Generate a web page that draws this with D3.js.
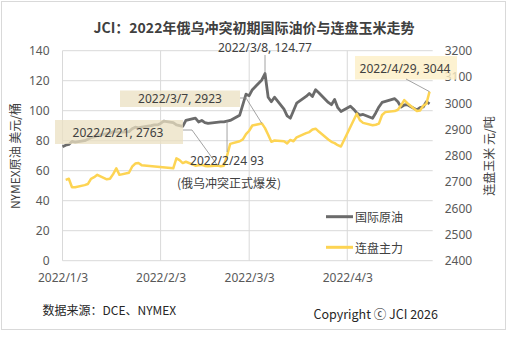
<!DOCTYPE html>
<html><head><meta charset="utf-8">
<script src="https://cdn.jsdelivr.net/npm/d3@7"></script>
<style>
html,body{margin:0;padding:0;background:#fff;}
svg{display:block;font-family:"Noto Sans CJK SC","Noto Sans",sans-serif;}
</style></head>
<body>
<svg id="c" width="508" height="338"></svg>
<script>
const title = "JCI：2022年俄乌冲突初期国际油价与连盘玉米走势";
const seriesNames = ["国际原油", "连盘主力"];
const xTickLabels = ["2022/1/3", "2022/2/3", "2022/3/3", "2022/4/3"];
const leftTicks = [0, 20, 40, 60, 80, 100, 120, 140];
const rightTicks = [2400, 2500, 2600, 2700, 2800, 2900, 3000, 3100, 3200];
const dates = [
 "2022/1/3","2022/1/4","2022/1/5","2022/1/6","2022/1/7",
 "2022/1/10","2022/1/11","2022/1/12","2022/1/13","2022/1/14",
 "2022/1/17","2022/1/18","2022/1/19","2022/1/20","2022/1/21",
 "2022/1/24","2022/1/25","2022/1/26","2022/1/27","2022/1/28",
 "2022/1/31","2022/2/1","2022/2/2","2022/2/3","2022/2/4",
 "2022/2/7","2022/2/8","2022/2/9","2022/2/10","2022/2/11",
 "2022/2/14","2022/2/15","2022/2/16","2022/2/17","2022/2/18",
 "2022/2/21","2022/2/22","2022/2/23","2022/2/24","2022/2/25",
 "2022/2/28","2022/3/1","2022/3/2","2022/3/3","2022/3/4",
 "2022/3/7","2022/3/8","2022/3/9","2022/3/10","2022/3/11",
 "2022/3/14","2022/3/15","2022/3/16","2022/3/17","2022/3/18",
 "2022/3/21","2022/3/22","2022/3/23","2022/3/24","2022/3/25",
 "2022/3/28","2022/3/29","2022/3/30","2022/3/31","2022/4/1",
 "2022/4/4","2022/4/5","2022/4/6","2022/4/7","2022/4/8",
 "2022/4/11","2022/4/12","2022/4/13","2022/4/14","2022/4/15",
 "2022/4/18","2022/4/19","2022/4/20","2022/4/21","2022/4/22",
 "2022/4/25","2022/4/26","2022/4/27","2022/4/28","2022/4/29"];
const oil = [
 76, 77, 77.5, 79.5, 79,
 80, 81, 82, 82.5, 83.5,
 null, 85, 86, 86, 85.5,
 86, 88, 89, 88.5, 89,
 90, 90.5, 90.5, 91.5, 93,
 92, 90.5, 90, 89.5, 93.5,
 95, 92.5, 93.5, 92, 91.5,
 null, 92.5, 92.5, 93, 93.5,
 97, 104, 111, 110, 114,
 120.5, 124.77, 109, 106, 109,
 101, 96.5, 95, 100, 105,
 109.5, 111.5, 109.5, 114, 112,
 105.5, 104, 107.5, 102, 99.5,
 103, 101, 98.5, 97, 97.5,
 95, 98.5, 102.5, 105.5, null,
 108, 106, 102.5, 103.8, 104,
 100.5, 102, 102.5, 106, 104.5];
const corn = [
 null, 2708, 2712, 2680, 2680,
 2688, 2692, 2712, 2718, 2727,
 2710, 2712, 2730, 2752, 2727,
 2735, 2758, 2770, 2772, 2764,
 null, null, null, null, null,
 2752, 2790, 2783, 2772, 2777,
 2762, 2764, 2765, 2761, 2760,
 2763, 2760, 2762, 2800, 2845,
 2855, 2862, 2882, 2895, 2915,
 2923, 2905, 2880, 2853, 2858,
 2855, 2847, 2860, 2855, 2870,
 2886, 2890, 2900, 2903, 2892,
 2862, 2853, 2848, 2840, 2835,
 null, null, 2960, 2935, 2925,
 2916, 2918, 2922, 2955, 2966,
 2970, 2975, 2992, 3012, 3000,
 2970, 2972, 2990, 2998, 3044];
const annotations = [
 {text: "2022/3/8, 124.77", date: "2022/3/8", series: "oil"},
 {text: "2022/3/7, 2923", date: "2022/3/7", series: "corn"},
 {text: "2022/2/21, 2763", date: "2022/2/21", series: "corn"},
 {text: "2022/2/24 93", date: "2022/2/24", series: "oil"},
 {text: "2022/4/29, 3044", date: "2022/4/29", series: "corn"}];
const eventNote = "(俄乌冲突正式爆发)";
const leftTitle = "NYMEX原油 美元/桶";
const rightTitle = "连盘玉米 元/吨";
const source = "数据来源：DCE、NYMEX";
const copyright = "Copyright ⓒ JCI 2026";

const parse = d3.timeParse("%Y/%m/%d");
const fmt = d => `${d.getFullYear()}/${d.getMonth()+1}/${d.getDate()}`;
const svg = d3.select("#c");
const P = {l: 62.5, r: 432.7, t: 50.7, b: 260.7};
const textCol = "#595959";
const oilCol = "#6b6b6b", cornCol = "#fdd453";

svg.append("rect").attr("x",1.5).attr("y",1.5).attr("width",504).attr("height",328)
  .attr("fill","#fff").attr("stroke","#d9d9d9");

const x = d3.scaleTime().domain([parse("2022/1/3"), parse("2022/4/30")]).range([P.l, P.r]);
const yL = d3.scaleLinear().domain([0, 140]).range([P.b, P.t]);
const yR = d3.scaleLinear().domain([2400, 3200]).range([P.b, P.t]);

// gridlines
svg.append("g").selectAll("line").data(leftTicks).join("line")
  .attr("x1",P.l).attr("x2",P.r).attr("y1",d=>yL(d)).attr("y2",d=>yL(d))
  .attr("stroke","#d9d9d9").attr("stroke-width",1);
svg.append("g").selectAll("line").data(xTickLabels.map(parse)).join("line")
  .attr("x1",d=>x(d)).attr("x2",d=>x(d)).attr("y1",P.t).attr("y2",P.b)
  .attr("stroke","#d9d9d9").attr("stroke-width",1);

function styleAxis(g){
  g.select(".domain").remove();
  g.selectAll(".tick line").remove();
  g.selectAll("text").attr("fill",textCol).style("font-size","12px")
   .style("font-family",'"Noto Sans",sans-serif');
}
svg.append("g").attr("transform",`translate(${P.l},0)`)
  .call(d3.axisLeft(yL).tickValues(leftTicks).tickFormat(d3.format("d")).tickSize(0).tickPadding(13)).call(styleAxis);
svg.append("g").attr("transform",`translate(${P.r},0)`)
  .call(d3.axisRight(yR).tickValues(rightTicks).tickFormat(d3.format("d")).tickSize(0).tickPadding(12)).call(styleAxis);
svg.append("g").attr("transform",`translate(0,${P.b})`)
  .call(d3.axisBottom(x).tickValues(xTickLabels.map(parse)).tickFormat(fmt).tickSize(0).tickPadding(13)).call(styleAxis);

// series
const oilPts = dates.map((d,i)=>({d:parse(d), v:oil[i]})).filter(p=>p.v!=null);
const cornPts = dates.map((d,i)=>({d:parse(d), v:corn[i]})).filter(p=>p.v!=null);
svg.append("path").datum(oilPts).attr("fill","none").attr("stroke",oilCol).attr("stroke-width",2.8)
  .attr("stroke-linejoin","round").attr("d", d3.line().x(p=>x(p.d)).y(p=>yL(p.v)));
svg.append("path").datum(cornPts).attr("fill","none").attr("stroke",cornCol).attr("stroke-width",2.5)
  .attr("stroke-linejoin","round").attr("d", d3.line().x(p=>x(p.d)).y(p=>yR(p.v)));

// annotations
function pt(a){
  const i = dates.indexOf(a.date);
  return a.series==="oil" ? [x(parse(a.date)), yL(oil[i])] : [x(parse(a.date)), yR(corn[i])];
}
const ann = svg.append("g");
const fontA = '"Noto Sans","Noto Sans CJK SC",sans-serif';
function label(t, cx, cy, size){
  return ann.append("text").attr("x",cx).attr("y",cy).attr("text-anchor","middle")
    .attr("dominant-baseline","central").attr("fill","#404040")
    .style("font-size",(size||12)+"px").style("font-family",fontA).text(t);
}
const lead = (pts)=>ann.append("path").attr("d",d3.line()(pts)).attr("fill","none")
  .attr("stroke","#8c8c8c").attr("stroke-width",0.8);

// 3/8 peak
{ const p = pt(annotations[0]); lead([[p[0],55],[p[0],p[1]]]); label(annotations[0].text, p[0], 47.5); }
// 3/7 corn
{ const p = pt(annotations[1]);
  ann.append("rect").attr("x",120).attr("y",90.5).attr("width",120).attr("height",16.5).attr("fill","#ebe0c2").attr("opacity",0.75);
  lead([[240,98],[246,98],[p[0],p[1]]]); label(annotations[1].text, 180, 98.5); }
// 2/21 corn
{ const p = pt(annotations[2]);
  ann.append("rect").attr("x",55).attr("y",120).attr("width",128).attr("height",24).attr("fill","#ebe0c2").attr("opacity",0.75);
  lead([[183,130],[192,130],[p[0],p[1]]]); label(annotations[2].text, 118, 132); }
// 2/24 oil
{ const p = pt(annotations[3]);
  lead([[p[0],p[1]],[p[0],152]]); label(annotations[3].text, p[0], 160.5);
  ann.append("text").attr("x",p[0]+2).attr("y",182).attr("text-anchor","middle")
    .attr("dominant-baseline","central").attr("fill","#404040").style("font-size","12px").text(eventNote); }
// 4/29 corn
{ const p = pt(annotations[4]);
  ann.append("rect").attr("x",355).attr("y",56).attr("width",102).attr("height",23.5).attr("fill","#fdefc6").attr("opacity",0.8);
  lead([[406,79],[p[0],p[1]]]); label(annotations[4].text, 405, 68); }

// legend
const lg = svg.append("g");
[[oilCol,216.7],[cornCol,247.3]].forEach((c,i)=>{
  lg.append("line").attr("x1",326).attr("x2",353).attr("y1",c[1]).attr("y2",c[1]).attr("stroke",c[0]).attr("stroke-width",3);
  lg.append("text").attr("x",355).attr("y",c[1]).attr("dominant-baseline","central").attr("fill","#404040")
    .style("font-size","12px").text(seriesNames[i]);
});

// titles
svg.append("text").attr("x",254).attr("y",26.5).attr("text-anchor","middle").attr("dominant-baseline","central")
  .attr("fill","#404040").style("font-size","14px").style("font-weight","bold").text(title);
svg.append("text").attr("transform",`translate(14,156) rotate(-90)`).attr("text-anchor","middle")
  .attr("dominant-baseline","central").attr("fill","#404040").style("font-size","12px").text(leftTitle);
svg.append("text").attr("transform",`translate(488,156) rotate(-90)`).attr("text-anchor","middle")
  .attr("dominant-baseline","central").attr("fill","#404040").style("font-size","12px").text(rightTitle);
svg.append("text").attr("x",42.5).attr("y",309.5).attr("dominant-baseline","central")
  .attr("fill","#262626").style("font-size","12px").text(source);
svg.append("text").attr("x",313.5).attr("y",313.5).attr("dominant-baseline","central")
  .attr("fill","#262626").style("font-size","12.5px").text(copyright);
</script>
</body></html>
